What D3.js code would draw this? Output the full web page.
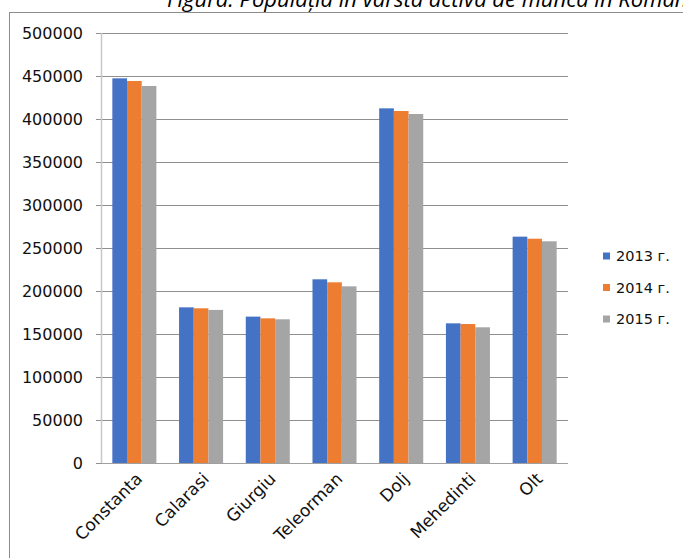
<!DOCTYPE html>
<html><head><meta charset="utf-8">
<script src="https://cdn.jsdelivr.net/npm/d3@7"></script>
<style>body{margin:0;background:#fff}svg{display:block}</style>
</head><body>
<script>
const categories = ["Constanta","Calarasi","Giurgiu","Teleorman","Dolj","Mehedinti","Olt"];
const series = ["2013 г.","2014 г.","2015 г."];
const v2013 = [447300,181000,170200,213600,412400,162400,263200];
const v2014 = [444200,179900,168200,210100,409300,161600,260800];
const v2015 = [438400,178000,167100,205400,405800,157800,257800];
const yTicks = [0,50000,100000,150000,200000,250000,300000,350000,400000,450000,500000];
const colors = ["#4472C4","#ED7D31","#A5A5A5"];
const title = "Figura: Populația în vârsta activă de muncă în România";

const W=683,H=558;
const svg=d3.select("body").append("svg").attr("width",W).attr("height",H);
const font="'DejaVu Sans', sans-serif";

// outer frame
svg.append("line").attr("x1",9).attr("x2",W).attr("y1",12.5).attr("y2",12.5).attr("stroke","#8c8c8c");
svg.append("line").attr("x1",9.5).attr("x2",9.5).attr("y1",12).attr("y2",H).attr("stroke","#8c8c8c");
svg.append("text").attr("x",167).attr("y",7).attr("font-family","'Open Sans', sans-serif").attr("font-style","italic")
  .attr("font-size",22).attr("fill","#000").text(title);

const m={l:101,r:568,t:33,b:463};
const x=d3.scaleBand().domain(categories).range([m.l,m.r]).paddingInner(0.34).paddingOuter(0.17);
const xi=d3.scaleBand().domain(series).range([0,x.bandwidth()]);
const y=d3.scaleLinear().domain([0,500000]).range([m.b,m.t]);

// gridlines + ticks
const yAxis=d3.axisLeft(y).tickValues(yTicks).tickFormat(d3.format("d")).tickSize(-(m.r-m.l)).tickPadding(18);
const gy=svg.append("g").attr("transform",`translate(${m.l},0)`).call(yAxis);
gy.select(".domain").remove();
gy.selectAll(".tick line").attr("x1",-5).attr("stroke","#8f8f8f").attr("stroke-width",1.2);
gy.selectAll(".tick text").attr("font-family",font).attr("font-size",16).attr("fill","#111");
svg.append("line").attr("x1",m.l+0.5).attr("x2",m.l+0.5).attr("y1",m.t).attr("y2",m.b).attr("stroke","#c8c8c8").attr("stroke-width",1.5);

const data=[v2013,v2014,v2015];
categories.forEach((c,i)=>{
  series.forEach((s,j)=>{
    svg.append("rect").attr("x",x(c)+xi(s)).attr("width",xi.bandwidth())
      .attr("y",y(data[j][i])).attr("height",y(0)-y(data[j][i])).attr("fill",colors[j]);
  });
});
svg.append("line").attr("x1",m.l).attr("x2",m.r).attr("y1",m.b+0.5).attr("y2",m.b+0.5).attr("stroke","#a0a0a0").attr("stroke-width",1.2);

// x labels
const xAxis=d3.axisBottom(x).tickSize(0).tickPadding(0);
const gx=svg.append("g").attr("transform",`translate(0,${m.b})`).call(xAxis);
gx.select(".domain").remove();
gx.selectAll(".tick text").attr("font-family",font).attr("font-size",17).attr("fill","#111")
  .attr("text-anchor","end").attr("dy",0).attr("transform","translate(9,17) rotate(-45)");

// legend
const lg=svg.append("g");
series.forEach((s,j)=>{
  const yy=256+j*31.5;
  lg.append("rect").attr("x",603).attr("y",yy-3.5).attr("width",7).attr("height",7).attr("fill",colors[j]);
  lg.append("text").attr("x",616).attr("y",yy).attr("dy","0.35em").attr("font-family",font)
    .attr("font-size",14.5).attr("fill","#111").text(s);
});
</script>
</body></html>
